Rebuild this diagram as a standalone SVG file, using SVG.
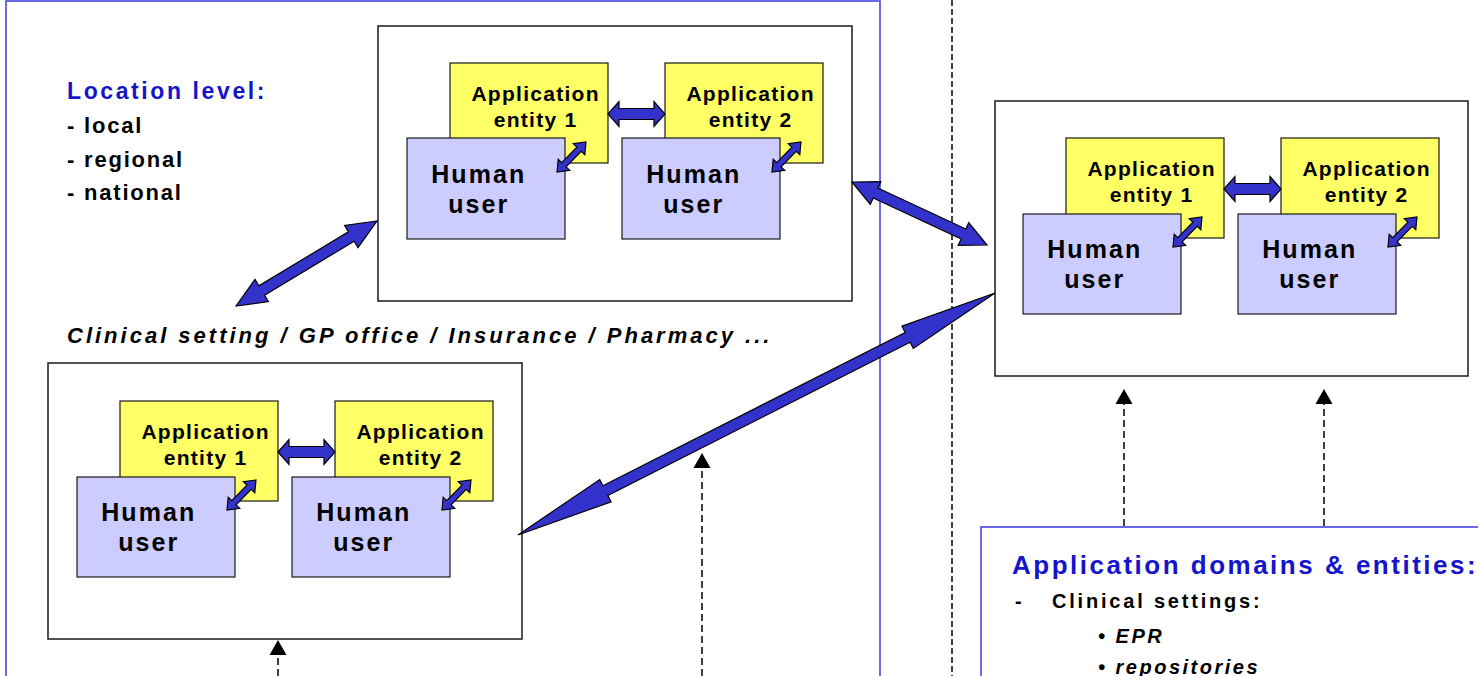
<svg xmlns="http://www.w3.org/2000/svg" xmlns:xlink="http://www.w3.org/1999/xlink" width="1478" height="676" viewBox="0 0 1478 676">
<defs>
<style>
.frame{fill:none;stroke:#3a3ae0;stroke-width:1.5}
.box{fill:#fff;stroke:#1a1a1a;stroke-width:1.5}
.app{fill:#ffff66;stroke:#1a1a1a;stroke-width:1.2}
.hum{fill:#ccccff;stroke:#1a1a1a;stroke-width:1.2}
.ta{font-family:'Liberation Sans',Arial,sans-serif;font-weight:bold;font-size:21px;letter-spacing:1.27px;text-anchor:middle;fill:#000}
.th{font-family:'Liberation Sans',Arial,sans-serif;font-weight:bold;font-size:25px;letter-spacing:2.1px;text-anchor:middle;fill:#000}
.big{fill:#3333cc;stroke:#000;stroke-width:1.2;stroke-linejoin:miter}
.dash{stroke:#000;stroke-width:1.5;stroke-dasharray:7 4;fill:none}
.sep{stroke:#000;stroke-width:1.5;stroke-dasharray:6 3;fill:none}
.head{fill:#000}
.lbl{font-family:'Liberation Sans',Arial,sans-serif;font-weight:bold;font-size:22px;letter-spacing:1.8px;fill:#000}
.ttl{font-family:'Liberation Sans',Arial,sans-serif;font-weight:bold;font-size:23px;letter-spacing:2.6px;fill:#1414cc}
.cap{font-family:'Liberation Sans',Arial,sans-serif;font-weight:bold;font-style:italic;font-size:22px;letter-spacing:3px;fill:#000}
.ttl2{font-family:'Liberation Sans',Arial,sans-serif;font-weight:bold;font-size:26px;letter-spacing:2.5px;fill:#1414cc}
.li{font-family:'Liberation Sans',Arial,sans-serif;font-weight:bold;font-size:20px;letter-spacing:2.8px;fill:#000}
.lii{font-family:'Liberation Sans',Arial,sans-serif;font-weight:bold;font-style:italic;font-size:20px;letter-spacing:2.5px;fill:#000}
</style>
<polygon id="hx" class="big" points="0,0 11,-12.5 11,-5.5 46,-5.5 46,-12.5 57,0 46,12.5 46,5.5 11,5.5 11,12.5"/>
<polygon id="dx" class="big" points="0,0 10,-8 10,-3 31.7,-3 31.7,-8 41.7,0 31.7,8 31.7,3 10,3 10,8"/>
</defs>
<rect width="1478" height="676" fill="#fff"/>

<g id="frames">
<rect class="frame" x="6" y="1" width="874" height="720"/>
<line class="sep" x1="952" y1="0" x2="952" y2="676"/>
<rect class="frame" x="981" y="527" width="620" height="300"/>
</g>

<g id="location-text">
<text class="ttl" x="67" y="99">Location level:</text>
<text class="lbl" x="67" y="133">- local</text>
<text class="lbl" x="67" y="166.5">- regional</text>
<text class="lbl" x="67" y="200">- national</text>
<text class="cap" x="67" y="342.5">Clinical setting / GP office / Insurance / Pharmacy ...</text>
</g>

<g id="node-top" transform="translate(378,26)">
<rect class="box" x="0" y="0" width="474" height="275"/>
<g id="node-top-ae1"><rect class="app" x="72" y="37" width="158" height="100"/><text class="ta" x="157.6" y="75">Application</text><text class="ta" x="157.6" y="101">entity 1</text></g>
<g id="node-top-ae2"><rect class="app" x="287" y="37" width="158" height="100"/><text class="ta" x="372.6" y="75">Application</text><text class="ta" x="372.6" y="101">entity 2</text></g>
<g id="node-top-hu1"><rect class="hum" x="29" y="112" width="158" height="101"/><text class="th" x="100.8" y="157">Human</text><text class="th" x="100.8" y="187">user</text></g>
<g id="node-top-hu2"><rect class="hum" x="244" y="112" width="158" height="101"/><text class="th" x="315.8" y="157">Human</text><text class="th" x="315.8" y="187">user</text></g>
</g>

<g id="node-left" transform="translate(48,363)">
<rect class="box" x="0" y="0" width="474" height="276"/>
<g id="node-left-ae1"><rect class="app" x="72" y="38" width="158" height="100"/><text class="ta" x="157.6" y="76">Application</text><text class="ta" x="157.6" y="102">entity 1</text></g>
<g id="node-left-ae2"><rect class="app" x="287" y="38" width="158" height="100"/><text class="ta" x="372.6" y="76">Application</text><text class="ta" x="372.6" y="102">entity 2</text></g>
<g id="node-left-hu1"><rect class="hum" x="29" y="114" width="158" height="100"/><text class="th" x="100.8" y="158">Human</text><text class="th" x="100.8" y="188">user</text></g>
<g id="node-left-hu2"><rect class="hum" x="244" y="114" width="158" height="100"/><text class="th" x="315.8" y="158">Human</text><text class="th" x="315.8" y="188">user</text></g>
</g>

<g id="node-right" transform="translate(995,101)">
<rect class="box" x="0" y="0" width="473" height="275"/>
<g id="node-right-ae1"><rect class="app" x="71" y="37" width="158" height="100"/><text class="ta" x="156.6" y="75">Application</text><text class="ta" x="156.6" y="101">entity 1</text></g>
<g id="node-right-ae2"><rect class="app" x="286" y="37" width="158" height="100"/><text class="ta" x="371.6" y="75">Application</text><text class="ta" x="371.6" y="101">entity 2</text></g>
<g id="node-right-hu1"><rect class="hum" x="28" y="113" width="158" height="100"/><text class="th" x="99.8" y="157">Human</text><text class="th" x="99.8" y="187">user</text></g>
<g id="node-right-hu2"><rect class="hum" x="243" y="113" width="158" height="100"/><text class="th" x="314.8" y="157">Human</text><text class="th" x="314.8" y="187">user</text></g>
</g>

<g id="domains-text">
<text class="ttl2" x="1012" y="574">Application domains &amp; entities:</text>
<text class="li" x="1015" y="608">-</text>
<text class="li" x="1052" y="608">Clinical settings:</text>
<text class="lii" x="1098" y="643">• EPR</text>
<text class="lii" x="1098" y="674">• repositories</text>
</g>

<g id="connectors">
<use xlink:href="#hx" transform="translate(608,114)"/>
<use xlink:href="#dx" transform="translate(557,172) rotate(-45.97)"/>
<use xlink:href="#dx" transform="translate(772,172) rotate(-45.97)"/>
<use xlink:href="#hx" transform="translate(278,452)"/>
<use xlink:href="#dx" transform="translate(227,510) rotate(-45.97)"/>
<use xlink:href="#dx" transform="translate(442,510) rotate(-45.97)"/>
<use xlink:href="#hx" transform="translate(1224,189)"/>
<use xlink:href="#dx" transform="translate(1173,247) rotate(-45.97)"/>
<use xlink:href="#dx" transform="translate(1388,247) rotate(-45.97)"/>

<polygon class="big" transform="translate(236,306) rotate(-31.08)" points="0,0 30,-13 30,-5.5 134.6,-5.5 134.6,-13 164.6,0 134.6,13 134.6,5.5 30,5.5 30,13"/>
<polygon class="big" transform="translate(852,182) rotate(25.02)" points="0,0 26,-12.5 26,-5.5 123,-5.5 123,-12.5 149,0 123,12.5 123,5.5 26,5.5 26,12.5"/>

<line class="dash" x1="702" y1="676" x2="702" y2="467"/>
<polygon class="head" points="702,453 693.5,468 710.5,468"/>
<line class="dash" x1="278" y1="676" x2="278" y2="654"/>
<polygon class="head" points="278,640 269.5,655 286.5,655"/>
<line class="dash" x1="1124" y1="526" x2="1124" y2="403"/>
<polygon class="head" points="1124,389 1115.5,404 1132.5,404"/>
<line class="dash" x1="1324" y1="526" x2="1324" y2="403"/>
<polygon class="head" points="1324,389 1315.5,404 1332.5,404"/>

<polygon class="big" transform="translate(518,535) rotate(-26.9)" points="0,0 98,-12.5 98,-5.5 436.9,-5.5 436.9,-12.5 534.9,0 436.9,12.5 436.9,5.5 98,5.5 98,12.5"/>
</g>
</svg>
